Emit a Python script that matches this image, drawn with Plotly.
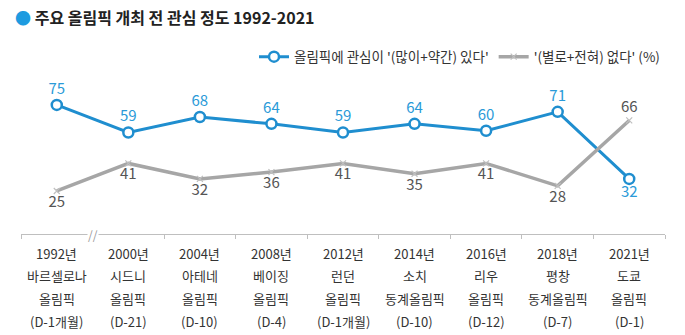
import plotly.graph_objects as go

# Survey data: interest in the Olympics before each opening
years = ["1992년", "2000년", "2004년", "2008년", "2012년", "2014년", "2016년", "2018년", "2021년"]
cities = ["바르셀로나", "시드니", "아테네", "베이징", "런던", "소치", "리우", "평창", "도쿄"]
games = ["올림픽", "올림픽", "올림픽", "올림픽", "올림픽", "동계올림픽", "올림픽", "동계올림픽", "올림픽"]
dday = ["(D-1개월)", "(D-21)", "(D-10)", "(D-4)", "(D-1개월)", "(D-10)", "(D-12)", "(D-7)", "(D-1)"]
interested = [75, 59, 68, 64, 59, 64, 60, 71, 32]
not_interested = [25, 41, 32, 36, 41, 35, 41, 28, 66]

BLUE = "#1F8ECF"
BLUE_TXT = "#2A9AD8"
GRAY = "#A6A6A6"
GRAY_TXT = "#555555"
FONT = "Noto Sans CJK KR"

x = list(range(len(years)))

# label above the blue line unless it crosses below the gray one
blue_pos = ["top center" if a >= b else "bottom center" for a, b in zip(interested, not_interested)]
gray_pos = ["bottom center" if b < a else "top center" for a, b in zip(interested, not_interested)]

fig = go.Figure()
fig.add_trace(go.Scatter(
    x=x, y=interested, mode="lines+markers+text",
    name="올림픽에 관심이 '(많이+약간) 있다'",
    line=dict(color=BLUE, width=3),
    marker=dict(symbol="circle", size=10, color="white", line=dict(color=BLUE, width=2.5)),
    text=[str(v) for v in interested], textposition=blue_pos,
    textfont=dict(color=BLUE_TXT, size=15, family=FONT),
    cliponaxis=False,
))
fig.add_trace(go.Scatter(
    x=x, y=not_interested, mode="lines+markers+text",
    name="'(별로+전혀) 없다' (%)",
    line=dict(color=GRAY, width=3.5),
    marker=dict(symbol="x-thin", size=6, color="#BFBFBF", line=dict(color="#BFBFBF", width=1.2)),
    text=[str(v) for v in not_interested], textposition=gray_pos,
    textfont=dict(color=GRAY_TXT, size=15, family=FONT),
    cliponaxis=False,
))

# category labels, four rows under each point
rows = [years, cities, games, dday]
annotations = []
for r, row in enumerate(rows):
    for i, label in enumerate(row):
        annotations.append(dict(
            x=i, xref="x", y=-0.116 - r * 0.14, yref="paper",
            text=label, showarrow=False, yanchor="middle",
            font=dict(size=13, color="#333333", family=FONT),
        ))

# axis break marker between 1992 and 2000
annotations.append(dict(
    x=0.5, xref="x", y=0, yref="paper", text="//", showarrow=False,
    font=dict(size=12, color="#999999", family=FONT), bgcolor="white",
    yanchor="middle", borderpad=0,
))

fig.update_layout(
    width=685, height=335,
    margin=dict(l=21, r=20, t=70, b=101),
    paper_bgcolor="white", plot_bgcolor="white",
    font=dict(family=FONT),
    title=dict(
        text="<span style='color:#1E9BE0'>●</span> <b>주요 올림픽 개최 전 관심 정도 1992-2021</b>",
        x=0.022, xref="container", xanchor="left",
        y=0.945, yref="container", yanchor="middle",
        font=dict(size=16, color="#222222", family=FONT),
    ),
    showlegend=True,
    legend=dict(
        orientation="h", x=1, xanchor="right", y=1.08, yanchor="middle",
        font=dict(size=13.5, color="#333333", family=FONT),
        itemwidth=30, tracegroupgap=0, bgcolor="rgba(0,0,0,0)",
    ),
    xaxis=dict(
        range=[-0.5, 8.5], showgrid=False, zeroline=False,
        showline=True, linecolor="#BFBFBF", linewidth=1,
        tickvals=[-0.5, 1.5, 2.5, 3.5, 4.5, 5.5, 6.5, 7.5, 8.5],
        ticks="outside", ticklen=4, tickcolor="#BFBFBF",
        showticklabels=False, fixedrange=True,
    ),
    yaxis=dict(
        range=[0, 95.3], visible=False, fixedrange=True,
    ),
    annotations=annotations,
)

fig.write_html("out.html")
